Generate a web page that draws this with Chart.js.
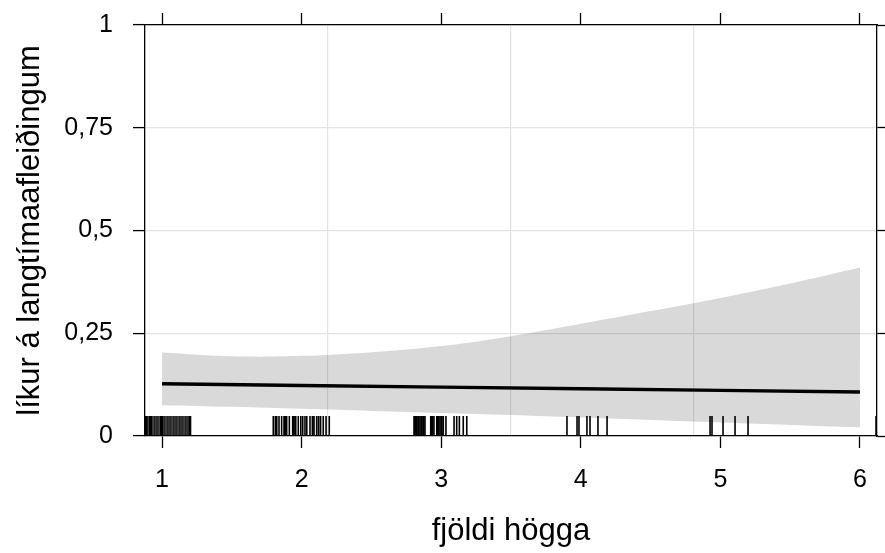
<!DOCTYPE html>
<html>
<head>
<meta charset="utf-8">
<script src="https://cdn.jsdelivr.net/npm/chart.js@4.4.1/dist/chart.umd.min.js"></script>
<style>
  html, body { margin: 0; padding: 0; background: #fff; }
  #wrap { width: 885px; height: 553px; }
</style>
</head>
<body>
<div id="wrap"><canvas id="c" width="885" height="553"></canvas></div>
<script>
// ---- data ----
const X_TICKS = [1, 2, 3, 4, 5, 6];
const Y_TICKS = [0, 0.25, 0.5, 0.75, 1];
const Y_TICK_LABELS = ['0', '0,25', '0,5', '0,75', '1'];
const X_TITLE = 'fjöldi högga';
const Y_TITLE = 'líkur á langtímaafleiðingum';

const FIT_X = [1, 2, 3, 4, 5, 6];
const FIT_Y = [0.127, 0.123, 0.119, 0.115, 0.111, 0.107];

const BAND_X = [1, 1.5, 2, 2.5, 3, 3.5, 4, 4.5, 5, 5.5, 6];
const BAND_UPPER = [0.203, 0.194, 0.195, 0.204, 0.219, 0.243, 0.273, 0.304, 0.336, 0.371, 0.410];
const BAND_LOWER = [0.075, 0.071, 0.066, 0.061, 0.056, 0.051, 0.045, 0.039, 0.033, 0.027, 0.021];

const RUG_X = [
  0.871, 0.882, 0.893, 0.907, 0.918, 0.928, 0.943, 0.957, 0.971, 0.986, 0.996, 1.007, 1.021,
  1.036, 1.050, 1.064, 1.079, 1.093, 1.107, 1.122, 1.136, 1.150, 1.165, 1.179, 1.193, 1.204,
  1.797, 1.812, 1.822, 1.838, 1.857, 1.874, 1.883, 1.893, 1.912, 1.936, 1.946, 1.958, 1.976,
  1.994, 2.008, 2.024, 2.037, 2.060, 2.077, 2.089, 2.108, 2.122, 2.136, 2.155, 2.175, 2.198,
  2.805, 2.814, 2.824, 2.836, 2.848, 2.860, 2.872, 2.884, 2.925, 2.936, 2.948, 2.968, 2.979,
  2.991, 3.003, 3.015, 3.034, 3.092, 3.111, 3.130, 3.158, 3.183,
  3.901, 3.973, 3.987, 4.044, 4.066, 4.123, 4.188,
  4.926, 4.940, 5.019, 5.105, 5.198,
  6.115
];

const X_MIN = 0.878, X_MAX = 6.122;
const Y_MIN = 0, Y_MAX = 1;

// ---- styling ----
const FONT = '"Liberation Sans", Arial, Helvetica, sans-serif';
Chart.defaults.color = '#000';
Chart.defaults.font.family = FONT;

const toXY = (xs, ys) => xs.map((x, i) => ({ x: x, y: ys[i] }));

const rugPlugin = {
  id: 'rug',
  afterDatasetsDraw(chart) {
    const xs = chart.scales.x;
    const area = chart.chartArea;
    const ctx = chart.ctx;
    ctx.save();
    ctx.beginPath();
    ctx.rect(area.left, area.top, area.right - area.left, area.bottom - area.top);
    ctx.clip();
    ctx.strokeStyle = '#000';
    ctx.lineWidth = 1.6;
    ctx.beginPath();
    RUG_X.forEach(v => {
      const px = xs.getPixelForValue(v);
      ctx.moveTo(px, area.bottom);
      ctx.lineTo(px, area.bottom - 20);
    });
    ctx.stroke();
    ctx.restore();
  }
};

const setTicks = arr => scale => { scale.ticks = arr.map(v => ({ value: v })); };
const noPad = s => { s.paddingTop = 0; s.paddingBottom = 0; s.paddingLeft = 0; s.paddingRight = 0; };

new Chart(document.getElementById('c'), {
  type: 'scatter',
  data: {
    datasets: [
      {
        label: 'fit',
        data: toXY(FIT_X, FIT_Y),
        showLine: true,
        borderColor: '#000',
        borderWidth: 3.4,
        pointRadius: 0,
        fill: false
      },
      {
        label: 'upper',
        data: toXY(BAND_X, BAND_UPPER),
        showLine: true,
        borderWidth: 0,
        borderColor: 'rgba(0,0,0,0)',
        pointRadius: 0,
        tension: 0.4,
        backgroundColor: 'rgba(0,0,0,0.15)',
        fill: '+1'
      },
      {
        label: 'lower',
        data: toXY(BAND_X, BAND_LOWER),
        showLine: true,
        borderWidth: 0,
        borderColor: 'rgba(0,0,0,0)',
        pointRadius: 0,
        tension: 0.4,
        fill: false
      }
    ]
  },
  options: {
    responsive: false,
    animation: false,
    layout: { padding: 0 },
    plugins: {
      legend: { display: false },
      tooltip: { enabled: false }
    },
    scales: {
      xGrid: {
        type: 'linear', position: 'bottom', min: X_MIN, max: X_MAX, weight: 10,
        ticks: { display: false },
        grid: { drawOnChartArea: true, drawTicks: false, color: '#e3e3e3', lineWidth: 1.2 },
        border: { display: false },
        afterBuildTicks: s => { s.ticks = [1, 2, 3].map(k => ({ value: s.min + (s.max - s.min) * k / 4 })); },
        afterFit: s => { s.height = 0; noPad(s); }
      },
      x: {
        type: 'linear', position: 'bottom', min: X_MIN, max: X_MAX, weight: 1,
        afterBuildTicks: setTicks(X_TICKS),
        ticks: { font: { size: 25 }, padding: 17, maxRotation: 0, autoSkip: false },
        grid: { drawOnChartArea: false, drawTicks: true, tickLength: 12, tickColor: '#000', tickWidth: 1.3 },
        border: { display: true, color: '#000', width: 1.3 },
        title: { display: true, text: X_TITLE, font: { size: 31 }, padding: { top: 0, bottom: 3 } },
        afterFit: s => { s.height = 117; noPad(s); }
      },
      xTop: {
        type: 'linear', position: 'top', min: X_MIN, max: X_MAX,
        afterBuildTicks: setTicks(X_TICKS),
        ticks: { display: false },
        grid: { drawOnChartArea: false, drawTicks: true, tickLength: 12, tickColor: '#000', tickWidth: 1.3 },
        border: { display: true, color: '#000', width: 1.3 },
        afterFit: s => { s.height = 25; noPad(s); }
      },
      y: {
        type: 'linear', position: 'left', min: Y_MIN, max: Y_MAX,
        afterBuildTicks: setTicks(Y_TICKS),
        ticks: { font: { size: 25 }, padding: 20, callback: (v, i) => Y_TICK_LABELS[i] },
        grid: { drawOnChartArea: true, color: '#e3e3e3', lineWidth: 1.2, drawTicks: true, tickLength: 12, tickColor: '#000', tickWidth: 1.3 },
        border: { display: true, color: '#000', width: 1.3 },
        title: { display: true, text: Y_TITLE, font: { size: 31 }, padding: { top: 12, bottom: 0 } },
        afterFit: s => { s.width = 145; noPad(s); }
      },
      yRight: {
        type: 'linear', position: 'right', min: Y_MIN, max: Y_MAX,
        afterBuildTicks: setTicks(Y_TICKS),
        ticks: { display: false },
        grid: { drawOnChartArea: false, drawTicks: true, tickLength: 12, tickColor: '#000', tickWidth: 1.3 },
        border: { display: true, color: '#000', width: 1.3 },
        afterFit: s => { s.width = 8; noPad(s); }
      }
    }
  },
  plugins: [rugPlugin]
});
</script>
</body>
</html>
